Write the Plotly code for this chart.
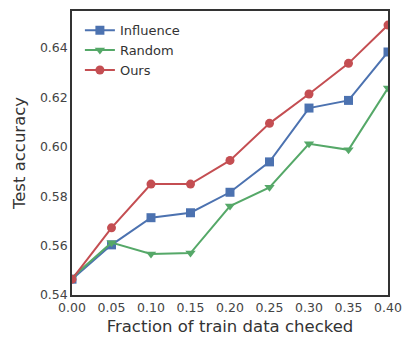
import plotly.graph_objects as go

x = [0.00, 0.05, 0.10, 0.15, 0.20, 0.25, 0.30, 0.35, 0.40]
influence = [0.5464, 0.5603, 0.5713, 0.5733, 0.5816, 0.5939, 0.6157, 0.6188, 0.6384]
random_ = [0.5470, 0.5612, 0.5566, 0.5570, 0.5760, 0.5836, 0.6012, 0.5988, 0.6238]
ours = [0.5464, 0.5672, 0.5849, 0.5849, 0.5945, 0.6095, 0.6214, 0.6338, 0.6493]

xticks = [0.00, 0.05, 0.10, 0.15, 0.20, 0.25, 0.30, 0.35, 0.40]
yticks = [0.54, 0.56, 0.58, 0.60, 0.62, 0.64]

fig = go.Figure()
fig.add_trace(go.Scatter(x=x, y=influence, name="Influence", mode="lines+markers",
                         line=dict(color="#4C72B0", width=2),
                         marker=dict(symbol="square", size=9, color="#4C72B0")))
fig.add_trace(go.Scatter(x=x, y=random_, name="Random", mode="lines+markers",
                         line=dict(color="#55A868", width=2),
                         marker=dict(symbol="triangle-down", size=9, color="#55A868")))
fig.add_trace(go.Scatter(x=x, y=ours, name="Ours", mode="lines+markers",
                         line=dict(color="#C44E52", width=2),
                         marker=dict(symbol="circle", size=9, color="#C44E52")))

fig.update_layout(
    width=411, height=342,
    margin=dict(l=72, r=14, t=9, b=44),
    paper_bgcolor="white", plot_bgcolor="white",
    font=dict(family="DejaVu Sans", color="#333333"),
    showlegend=True,
    legend=dict(x=0.025, y=0.985, xanchor="left", yanchor="top",
                bgcolor="rgba(0,0,0,0)", font=dict(size=13, color="#333333"),
                itemwidth=30, tracegroupgap=0),
)
fig.update_xaxes(range=[0, 0.4], tickvals=xticks, ticktext=[f"{v:.2f}" for v in xticks],
                 showgrid=False, zeroline=False, showline=True, mirror=True,
                 linecolor="#333333", linewidth=1.5, ticks="", ticklen=0,
                 tickfont=dict(size=12.5, color="#444444"),
                 title=dict(text="Fraction of train data checked", font=dict(size=16.5, color="#333333"), standoff=7))
fig.update_yaxes(range=[0.54, 0.655], tickvals=yticks, ticktext=[f"{v:.2f}" for v in yticks],
                 showgrid=False, zeroline=False, showline=True, mirror=True,
                 linecolor="#333333", linewidth=1.5, ticks="", ticklen=0,
                 tickfont=dict(size=12.5, color="#444444"),
                 title=dict(text="Test accuracy", font=dict(size=16.5, color="#333333"), standoff=10))

fig.write_html("out.html")
